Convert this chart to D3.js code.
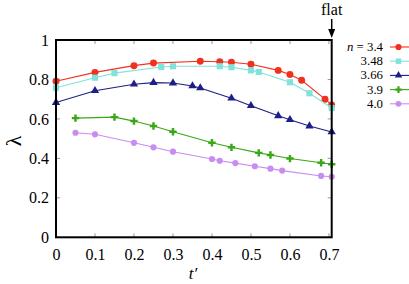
<!DOCTYPE html>
<html><head><meta charset="utf-8">
<script src="https://cdn.jsdelivr.net/npm/d3@7"></script>
</head><body style="margin:0;background:#fff">
<svg id="c" width="409" height="284" style="display:block"></svg>
<script>
const xTicks = [0,0.1,0.2,0.3,0.4,0.5,0.6,0.7];
const yTicks = [0,0.2,0.4,0.6,0.8,1];
const seriesNames = ["3.4","3.48","3.66","3.9","4.0"];
const seriesColors = ["#f2301e","#7fe3dc","#1c1f86","#3aa716","#c98cf0"];
const seriesSymbols = ["circle","square","triangle","cross","circle"];
const t34 = [0,0.1,0.2,0.25,0.37,0.42,0.45,0.5,0.57,0.6,0.63,0.69,0.7071];
const v34 = [0.791,0.836,0.870,0.883,0.892,0.890,0.887,0.877,0.846,0.825,0.796,0.700,0.671];
const t348 = [0,0.1,0.15,0.27,0.3,0.42,0.45,0.5,0.52,0.6,0.65,0.7071];
const v348 = [0.758,0.809,0.832,0.863,0.867,0.867,0.862,0.846,0.838,0.786,0.730,0.655];
const t366 = [0,0.1,0.2,0.25,0.3,0.35,0.37,0.45,0.5,0.57,0.6,0.65,0.7071];
const v366 = [0.683,0.743,0.776,0.784,0.782,0.767,0.757,0.705,0.667,0.616,0.596,0.564,0.534];
const t39 = [0.05,0.15,0.2,0.25,0.3,0.4,0.45,0.52,0.55,0.6,0.68,0.7071];
const v39 = [0.604,0.609,0.589,0.564,0.535,0.479,0.456,0.428,0.417,0.399,0.378,0.370];
const t40 = [0.05,0.1,0.2,0.25,0.3,0.4,0.42,0.46,0.51,0.55,0.58,0.68,0.7071];
const v40 = [0.530,0.522,0.479,0.456,0.434,0.397,0.388,0.376,0.360,0.348,0.338,0.311,0.307];
const ts = [t34,t348,t366,t39,t40];
const vs = [v34,v348,v366,v39,v40];

const SERIF = "Liberation Serif";
const svg = d3.select("#c");
const L=56, R=331.7, T=40, B=237.3;
const x = d3.scaleLinear().domain([0,0.7071]).range([L,R]);
const y = d3.scaleLinear().domain([0,1]).range([B,T]);

const tk = svg.append("g").attr("stroke","#999").attr("stroke-width",1);
xTicks.forEach(t=>{
  tk.append("line").attr("x1",x(t)).attr("x2",x(t)).attr("y1",B).attr("y2",B-4);
  tk.append("line").attr("x1",x(t)).attr("x2",x(t)).attr("y1",T).attr("y2",T+4);
});
yTicks.forEach(v=>{
  tk.append("line").attr("x1",L).attr("x2",L+4).attr("y1",y(v)).attr("y2",y(v));
  tk.append("line").attr("x1",R).attr("x2",R-4).attr("y1",y(v)).attr("y2",y(v));
});
const xa = svg.append("g").attr("transform",`translate(0,${B})`)
  .call(d3.axisBottom(x).tickValues(xTicks).tickSize(0).tickPadding(11).tickFormat(d=>d===0?"0":d3.format(".1f")(d)));
xa.select(".domain").remove();
xa.attr("font-family",SERIF).attr("font-size",16);
xa.selectAll("text").attr("font-family",SERIF).attr("font-size",16).attr("fill","#000");
const ya = svg.append("g").attr("transform",`translate(${L},0)`)
  .call(d3.axisLeft(y).tickValues(yTicks).tickSize(0).tickPadding(7).tickFormat(d=>(d===0||d===1)?String(d):d3.format(".1f")(d)));
ya.select(".domain").remove();
ya.attr("font-family",SERIF).attr("font-size",16);
ya.selectAll("text").attr("font-family",SERIF).attr("font-size",16).attr("fill","#000");

const symMap = {circle:d3.symbolCircle, square:d3.symbolSquare, triangle:d3.symbolTriangle, cross:d3.symbolCross};
const symSize = {circle:38, square:38, triangle:30, cross:30};
function marker(g, type, cx, cy, color, sz){
  g.append("path").attr("d", d3.symbol().type(symMap[type]).size(sz||symSize[type])())
   .attr("transform",`translate(${cx},${cy})`).attr("fill",color);
}
const line = d3.line();
ts.forEach((tt,i)=>{
  const pts = tt.map((t,j)=>[x(t), y(vs[i][j])]);
  const g = svg.append("g");
  g.append("path").attr("d",line(pts)).attr("fill","none").attr("stroke",seriesColors[i]).attr("stroke-width",1.1);
  const sz = i===4 ? 30 : undefined;
  pts.forEach(p=>marker(g, seriesSymbols[i], p[0], p[1], seriesColors[i], sz));
});

svg.append("rect").attr("x",L).attr("y",T).attr("width",R-L).attr("height",B-T)
  .attr("fill","none").attr("stroke","#000").attr("stroke-width",2);

seriesNames.forEach((n,i)=>{
  const ly = 47 + i*14.2;
  const tx = svg.append("text").attr("x",383).attr("y",ly+4).attr("text-anchor","end")
    .attr("font-size",12.8).attr("font-family",SERIF);
  if(i===0){ tx.append("tspan").attr("font-style","italic").text("n"); tx.append("tspan").text(" = "+n); }
  else tx.text(n);
  svg.append("line").attr("x1",390).attr("x2",409).attr("y1",ly).attr("y2",ly)
    .attr("stroke",seriesColors[i]).attr("stroke-width",1.1);
  marker(svg, seriesSymbols[i], 398.5, ly, seriesColors[i], i===4?26:(seriesSymbols[i]==="circle"||seriesSymbols[i]==="square"?30:24));
});

svg.append("text").attr("transform","translate(21,141) rotate(-90)").attr("text-anchor","middle")
  .attr("font-size",22).attr("font-family",SERIF).text("λ");
svg.append("text").attr("x",193).attr("y",279).attr("text-anchor","middle")
  .attr("font-size",17).attr("font-family",SERIF).attr("font-style","italic").text("t′");

svg.append("text").attr("x",331.7).attr("y",15).attr("text-anchor","middle")
  .attr("font-size",16).attr("font-family",SERIF).text("flat");
svg.append("line").attr("x1",331.7).attr("x2",331.7).attr("y1",19).attr("y2",31).attr("stroke","#000").attr("stroke-width",1.5);
svg.append("path").attr("d",`M${331.7-3.5},29 L${331.7+3.5},29 L331.7,38 Z`).attr("fill","#000");
</script>
</body></html>
